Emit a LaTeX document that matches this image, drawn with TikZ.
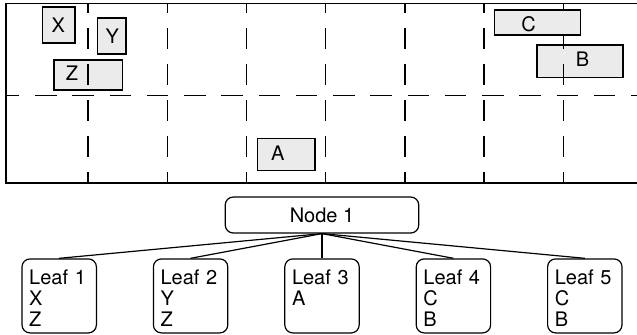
\documentclass[tikz,border=0pt]{standalone}
\usepackage{fontspec}
\setmainfont{TeX Gyre Heros}
\usepackage{tikz}
\usetikzlibrary{positioning}
\tikzstyle{frameline} = [line width=0.8pt]
\tikzstyle{gridv} = [line width=0.7pt, dash pattern=on 10.5pt off 7.5pt, dash phase=5.5pt]
\tikzstyle{gridh} = [line width=0.7pt, dash pattern=on 10.75pt off 7.875pt, dash phase=4.1pt]
\tikzstyle{region} = [draw, line width=0.6pt, fill=black!8]
\tikzstyle{lbl} = [inner sep=0pt]
\tikzstyle{tnode} = [draw, rounded corners=4pt, line width=0.6pt,
    minimum width=96.75pt, minimum height=18pt]
\tikzstyle{leaf} = [draw, rounded corners=4pt, line width=0.6pt, align=left,
    text width=30pt, inner xsep=3.6pt, inner ysep=3.35pt,
    text height=9.45pt, text depth=20.85pt]
\tikzstyle{link} = [line width=0.6pt]

\begin{document}
\begin{tikzpicture}[x=0.5pt, y=-0.5pt, font=\fontsize{10}{10.4}\selectfont]
    \useasboundingbox (0,0) rectangle (637,334);
    % The frame of the plane
    \draw[line width=0.5pt] (6,3) -- (637,3);
    \draw[frameline] (6,3) -- (6,183) -- (637,183);
    % Regions below the grid
    \draw[region] (42.5,7) rectangle (75,43);
    \draw[region] (97.3,18) rectangle (126,54);
    \draw[region] (54,60) rectangle (122.3,90);
    \draw[region] (257.3,138.3) rectangle (315,170.7);
    \draw[region] (537,45) rectangle (623,77.3);
    % The dashed grid
    \draw[gridh] (6,95.5) -- (637,95.5);
    \foreach \k in {0,...,6}
        \draw[gridv] ({88+79.2*\k},3) -- ({88+79.2*\k},183);
    \draw[region] (494.7,10) rectangle (580.3,35);
    % Labels of the regions
    \node[lbl] (X) at (58.3,25) {X};
    \node[lbl] (Y) at (112.2,35.8) {Y};
    \node[lbl] (Z) at (72,73.3) {Z};
    \node[lbl] (A) at (277.8,153.3) {A};
    \node[lbl] (C) at (528.7,24.2) {C};
    \node[lbl] (B) at (582.5,58.8) {B};
    % The tree
    \node[tnode] (node1) at (322,215) {Node 1};
    \node[leaf, below=12.35pt of node1] (leaf3) {Leaf 3\\A};
    \node[leaf, left=27.9pt of leaf3] (leaf2) {Leaf 2\\Y\\Z};
    \node[leaf, left=27.9pt of leaf2] (leaf1) {Leaf 1\\X\\Z};
    \node[leaf, right=27.9pt of leaf3] (leaf4) {Leaf 4\\C\\B};
    \node[leaf, right=27.9pt of leaf4] (leaf5) {Leaf 5\\C\\B};
    \foreach \i in {1,...,5}
        \draw[link] (node1.south) -- (leaf\i.north);
\end{tikzpicture}
\end{document}
